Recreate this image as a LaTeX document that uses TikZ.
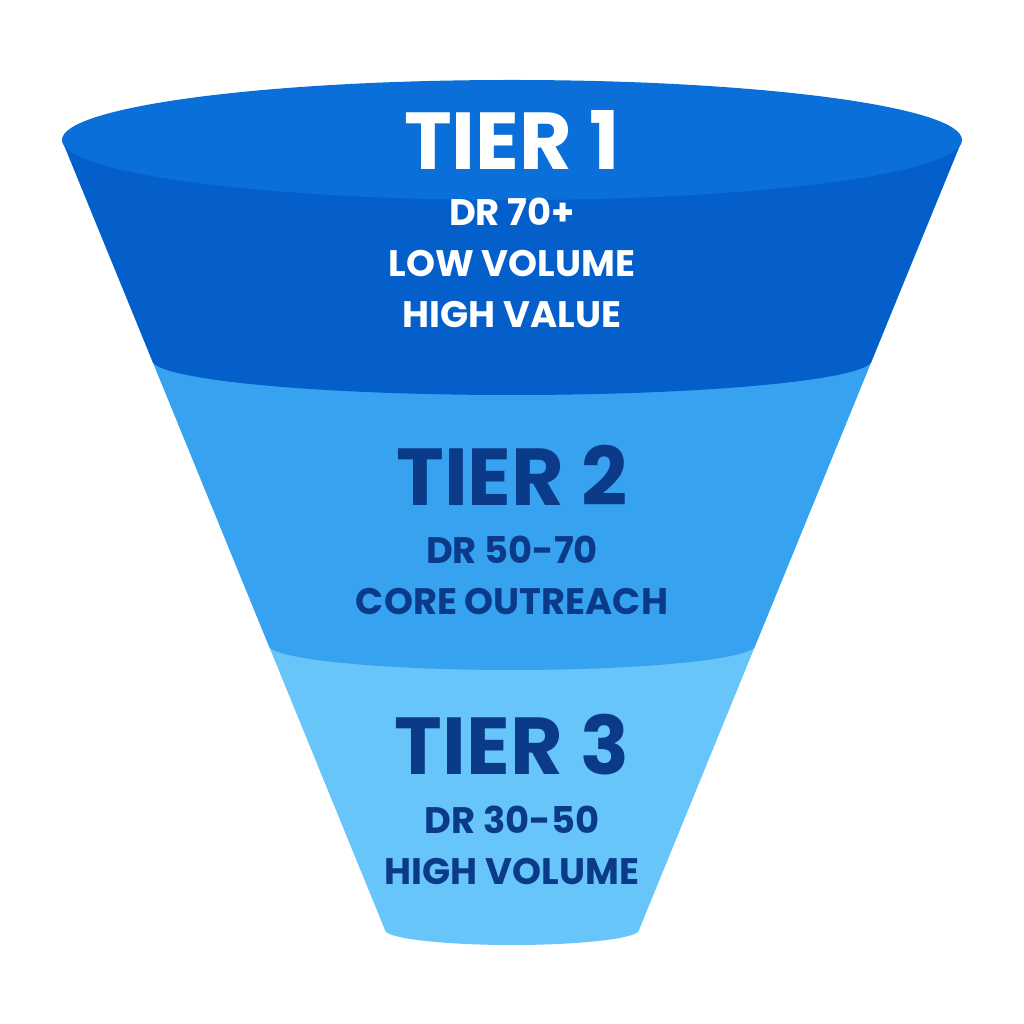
\documentclass[tikz,border=0pt]{standalone}
\usepackage{fontspec}
\setmainfont{Poppins}[BoldFont=Poppins Bold]
\usetikzlibrary{positioning}
\definecolor{rimblue}{HTML}{0A6FD8}
\definecolor{topblue}{HTML}{055FCB}
\definecolor{midblue}{HTML}{36A2F0}
\definecolor{lowblue}{HTML}{68C5FA}
\definecolor{navy}{HTML}{0B3A88}

\begin{document}
\begin{tikzpicture}[
  x = 0.02cm,
  y = 0.02cm,
  title/.style = {
    font = \bfseries\fontsize{46}{50}\selectfont,
  },
  info/.style = {
    font = \bfseries\fontsize{21}{29}\selectfont,
    align = center,
  },
]

  \useasboundingbox[fill=white] (0,0) rectangle (1024,1024);

  % bands, bottom to top
  \fill[lowblue] (62,884) -- (385,94) arc[start angle=180,end angle=360,x radius=127,y radius=15] -- (962,884) -- cycle;
  \fill[midblue] (62,884) -- (268.5,379) arc[start angle=180,end angle=360,x radius=243.5,y radius=25] -- (962,884) -- cycle;
  \fill[topblue] (62,884) -- (152,664) arc[start angle=180,end angle=360,x radius=360,y radius=35] -- (962,884) -- cycle;
  \fill[rimblue] (512,884) ellipse[x radius=450,y radius=60];

  \node[title,white] (t1) at (512,884) {TIER 1};
  \node[info,white] (d1) at (512,761) {DR 70+\\LOW VOLUME\\HIGH VALUE};

  \node[title,navy] (t2) at (512,549) {TIER 2};
  \node[info,navy] (d2) at (512,449) {DR 50-70\\CORE OUTREACH};

  \node[title,navy] (t3) at (512,279) {TIER 3};
  \node[info,navy] (d3) at (512,179) {DR 30-50\\HIGH VOLUME};

\end{tikzpicture}
\end{document}
